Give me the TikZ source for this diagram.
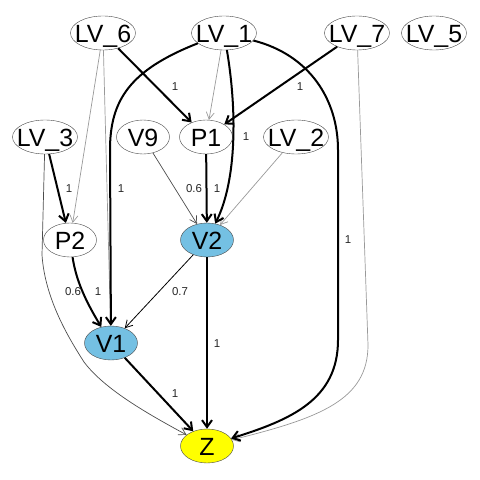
\documentclass[tikz,border=0pt]{standalone}
\usepackage{fontspec}
\setmainfont{Liberation Sans}
\usetikzlibrary{shapes.geometric,arrows.meta}
\definecolor{vblue}{RGB}{116,192,227}
\definecolor{zyellow}{RGB}{255,255,0}
\begin{document}
\begin{tikzpicture}[x=1bp, y=-1bp]
	\tikzstyle{lv} = [ draw=black!72, ellipse, thin, inner sep=0pt, minimum width=65bp, minimum height=34bp ];
	\tikzstyle{var} = [ lv, minimum width=53bp ];
	\tikzstyle{lvtext} = [ font={\fontsize{25}{25}\selectfont}, text height=17bp, text depth=0bp, inner sep=0pt, yshift=-1bp ];
	\tikzstyle{wt} = [ font={\fontsize{11.5}{11.5}\selectfont}, text=black!85, inner sep=0pt ];
	\tikzstyle{strong} = [ -{Straight Barb[length=7bp,width=10bp]}, line width=2bp ];
	\tikzstyle{weak} = [ -{Straight Barb[length=7bp,width=8bp]}, line width=0.7bp, color=black!40 ];
	\tikzstyle{midgray} = [ weak, color=black!70 ];

	\useasboundingbox (0,0) rectangle (480,480);

	\foreach \n/\t/\x/\y in {LV6/LV\_6/103/33, LV1/LV\_1/224/33, LV7/LV\_7/357/33, LV5/LV\_5/434/33,
			LV3/LV\_3/45/137, LV2/LV\_2/296/137} {
		\node[lv, label={[lvtext]center:\t}] (\n) at (\x,\y) {};
	}
	\foreach \n/\x/\y/\c in {V9/143/137/white, P1/206/137/white, P2/70/240/white,
			V2/207/240/vblue, V1/111/343/vblue, Z/207/446/zyellow} {
		\node[var, fill=\c, label={[lvtext]center:\n}] (\n) at (\x,\y) {};
	}

	% light edges
	\foreach \a/\b in {LV6/P2, LV6/V1, LV1/P1, LV2/V2} {
		\draw[weak] (\a) -- (\b);
	}
	\draw[weak] (LV7) -- (368,345) .. controls (368,400) and (320,418) .. (Z);
	\draw[midgray] (V9) -- (V2);
	\draw[midgray] (LV3) -- (42,255) .. controls (45,300) and (70,340) .. (84,362) .. controls (105,390) and (150,415) .. (Z);
	\draw[-{Straight Barb[length=7bp,width=8bp]}, line width=0.8bp] (V2) -- (V1);

	% strong edges
	\foreach \a/\b in {LV6/P1, LV7/P1, LV3/P2, P1/V2, V2/Z, V1/Z} {
		\draw[strong] (\a) -- (\b);
	}
	\draw[strong] (LV1) .. controls (130,70) and (110,100) .. (110,150) -- (V1);
	\draw[strong] (LV1) .. controls (237,110) and (237,180) .. (V2);
	\draw[strong] (LV1) .. controls (310,55) and (338,100) .. (338,150) -- (338,340) .. controls (338,400) and (290,420) .. (Z);
	\draw[strong] (P2) .. controls (76,280) and (85,300) .. (V1);

	\foreach \x/\y/\t [count=\i] in {175/87/1, 300/87/1, 246/137/1, 69/189/1, 121/189/1, 194/189/0.6,
			217/189/1, 348/240/1, 73/292/0.6, 98/292/1, 180/292/0.7, 217/344/1, 175/394/1} {
		\node[wt] (w\i) at (\x,\y) {\t};
	}
\end{tikzpicture}
\end{document}
